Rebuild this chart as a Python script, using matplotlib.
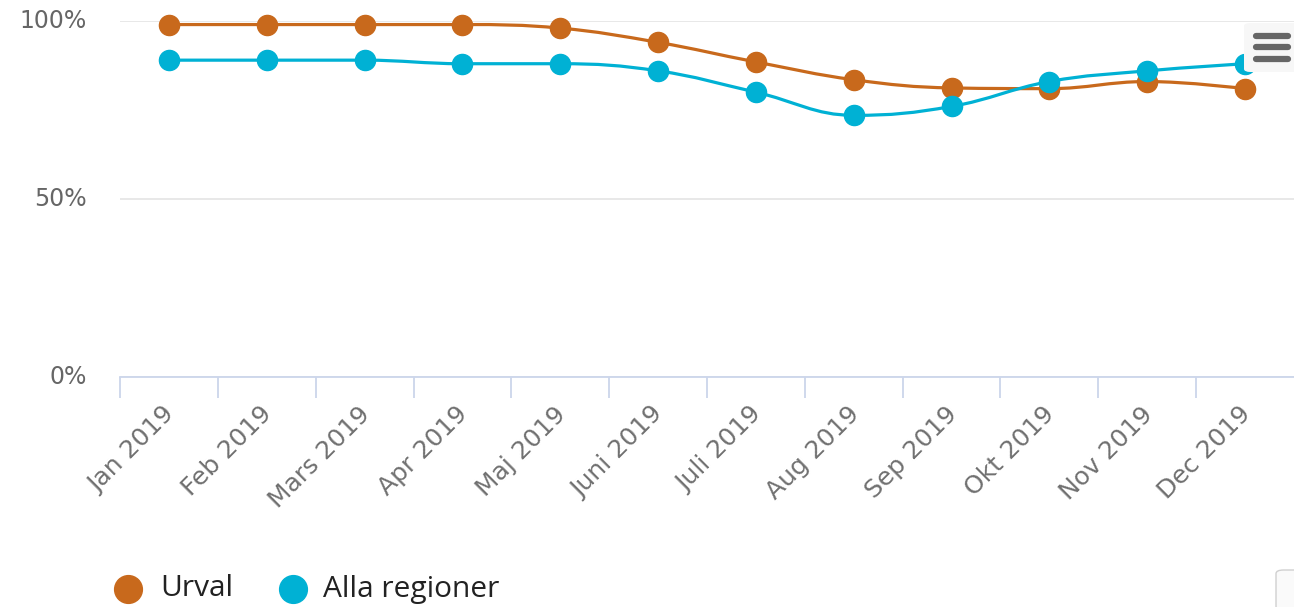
import numpy as np
import matplotlib.pyplot as plt
import matplotlib.transforms as mtrans
from matplotlib.path import Path
from matplotlib.patches import PathPatch, FancyBboxPatch
from matplotlib.lines import Line2D

plt.rcParams['font.family'] = ['DejaVu Sans']

months = ['Jan 2019', 'Feb 2019', 'Mars 2019', 'Apr 2019', 'Maj 2019', 'Juni 2019',
          'Juli 2019', 'Aug 2019', 'Sep 2019', 'Okt 2019', 'Nov 2019', 'Dec 2019']
urval = [99, 99, 99, 99, 98, 94, 88.5, 83.5, 81.2, 81, 83, 81]
alla = [89, 89, 89, 88, 88, 86, 80, 73.5, 76, 83, 86, 88]

c_urval = '#c8691c'
c_alla = '#00b1d4'


def spline_path(x, y, smooth=1.5):
    # highcharts style spline control points
    n = len(x)
    lc = [(x[i], y[i]) for i in range(n)]
    rc = [(x[i], y[i]) for i in range(n)]
    for i in range(1, n - 1):
        d = smooth + 1
        lx = (smooth * x[i] + x[i - 1]) / d
        ly = (smooth * y[i] + y[i - 1]) / d
        rx = (smooth * x[i] + x[i + 1]) / d
        ry = (smooth * y[i] + y[i + 1]) / d
        if rx != lx:
            corr = ((ry - ly) * (rx - x[i])) / (rx - lx) + y[i] - ry
            ly += corr
            ry += corr
        if ly > max(y[i - 1], y[i]):
            ly = max(y[i - 1], y[i]); ry = 2 * y[i] - ly
        elif ly < min(y[i - 1], y[i]):
            ly = min(y[i - 1], y[i]); ry = 2 * y[i] - ly
        if ry > max(y[i + 1], y[i]):
            ry = max(y[i + 1], y[i]); ly = 2 * y[i] - ry
        elif ry < min(y[i + 1], y[i]):
            ry = min(y[i + 1], y[i]); ly = 2 * y[i] - ry
        lc[i] = (lx, ly)
        rc[i] = (rx, ry)
    verts = [(x[0], y[0])]
    codes = [Path.MOVETO]
    for i in range(1, n):
        verts += [rc[i - 1], lc[i], (x[i], y[i])]
        codes += [Path.CURVE4] * 3
    return Path(verts, codes)


fig = plt.figure(figsize=(12.94, 6.07), dpi=100)
ax = fig.add_axes([120 / 1294, 1 - 377 / 607, 1174 / 1294, 356 / 607])
xs = np.arange(len(months))

for vals, col in [(urval, c_urval), (alla, c_alla)]:
    ax.add_patch(PathPatch(spline_path(list(xs), list(vals)), fill=False,
                           edgecolor=col, lw=2.3, zorder=3, clip_on=False))
    ax.plot(xs, vals, ls='none', marker='o', ms=14.5, color=col, zorder=4, clip_on=False)

ax.set_xlim(-0.5, 11.5)
ax.set_ylim(0, 100)
ax.set_yticks([0, 50, 100])
ax.set_yticklabels(['0%', '50%', '100%'], va='center')
ax.yaxis.grid(True, color='#e6e6e6', lw=1.3)
ax.set_axisbelow(True)
for s in ['top', 'right', 'left']:
    ax.spines[s].set_visible(False)
ax.spines['bottom'].set_color('#ccd6eb')
ax.spines['bottom'].set_linewidth(1.3)
ax.tick_params(axis='y', length=0, pad=24, labelsize=17, labelcolor='#666666')

# category boundary ticks
ax.set_xticks(np.arange(-0.5, 11.5, 1))
ax.set_xticklabels([])
ax.tick_params(axis='x', which='major', length=15, width=1.3, color='#ccd6eb')
ax.set_xticks(xs, minor=True)
ax.set_xticklabels(months, minor=True, rotation=45, ha='right', va='top',
                   rotation_mode='anchor', fontsize=18, color='#707070')
ax.tick_params(axis='x', which='minor', length=0, pad=18)
shift = mtrans.ScaledTranslation(-7 / 100, 0, fig.dpi_scale_trans)
for lbl in ax.get_xticklabels(minor=True):
    lbl.set_transform(lbl.get_transform() + shift)

# legend drawn by hand in figure coords
leg_font = ['Open Sans', 'DejaVu Sans']
for cx, tx, col, lab in [(128, 160, c_urval, 'Urval'), (293, 323, c_alla, 'Alla regioner')]:
    fig.add_artist(Line2D([cx / 1294], [1 - 589 / 607], ls='none', marker='o', ms=20,
                          color=col))
    fig.text(tx / 1294, 1 - 589 / 607, lab, fontsize=21.5, color='#222222',
             family=leg_font, va='center', ha='left')

# export menu button
fig.patches.append(FancyBboxPatch((1244 / 1294, 1 - 72 / 607), 60 / 1294, 49 / 607,
                                  boxstyle='round,pad=0,rounding_size=0.005',
                                  transform=fig.transFigure, fc='#f7f7f7', ec='none', zorder=5))
for yy in [36, 47, 59]:
    fig.add_artist(Line2D([1256 / 1294, 1288 / 1294], [1 - yy / 607] * 2, lw=4.5,
                          color='#666666', solid_capstyle='round', zorder=6))
# partial scroll widget bottom right
fig.patches.append(FancyBboxPatch((1276 / 1294, 1 - 610 / 607), 40 / 1294, 40 / 607,
                                  boxstyle='round,pad=0,rounding_size=0.006',
                                  transform=fig.transFigure, fc='#fafafa', ec='#d0d0d0',
                                  lw=1, zorder=5))

fig.savefig('out.png', dpi=100)
